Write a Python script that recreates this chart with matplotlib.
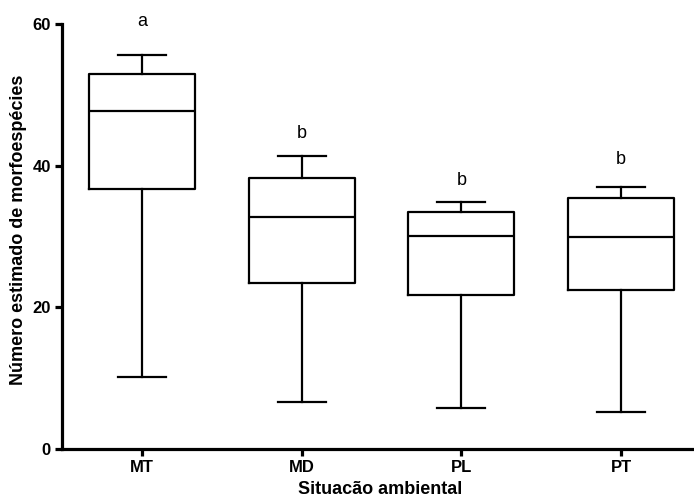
import matplotlib
matplotlib.use("Agg")
import matplotlib.pyplot as plt

# values
groups = ["MT", "MD", "PL", "PT"]
whislo = [10.2, 6.6, 5.8, 5.2]
q1 = [36.7, 23.5, 21.8, 22.4]
med = [47.7, 32.7, 30.1, 30.0]
q3 = [52.9, 38.3, 33.4, 35.4]
whishi = [55.6, 41.4, 34.9, 37.0]
letters = ["a", "b", "b", "b"]
letter_y = [59.7, 43.9, 37.3, 40.3]

plt.rcParams['font.family'] = ['Liberation Sans', 'DejaVu Sans']

fig = plt.figure(figsize=(6.94, 4.97), dpi=100)
ax = fig.add_axes([62 / 694, 1 - 449 / 497, 639 / 694, 425 / 497])

stats = []
for i in range(len(groups)):
    stats.append(dict(label=groups[i], whislo=whislo[i], q1=q1[i], med=med[i],
                      q3=q3[i], whishi=whishi[i], fliers=[]))

lw = 1.6
ax.bxp(stats, positions=range(1, 5), widths=0.665, showfliers=False,
       boxprops=dict(color="black", linewidth=lw),
       medianprops=dict(color="black", linewidth=lw),
       whiskerprops=dict(color="black", linewidth=lw),
       capprops=dict(color="black", linewidth=lw),
       capwidths=0.3)

# significance letters
for i in range(len(groups)):
    ax.text(i + 1, letter_y[i], letters[i], ha="center", va="baseline",
            fontsize=13, clip_on=False)

ax.set_xlim(0.5, 4.5)
ax.set_ylim(0, 60)
ax.set_yticks([0, 20, 40, 60])
ax.spines["top"].set_visible(False)
ax.spines["right"].set_visible(False)
ax.spines["left"].set_linewidth(2.3)
ax.spines["bottom"].set_linewidth(2.3)
ax.tick_params(axis="both", width=2.3, length=5, labelsize=12, pad=3)
for lab in ax.get_xticklabels() + ax.get_yticklabels():
    lab.set_fontweight("bold")

fig.text(19 / 694, 1 - 230 / 497, "Número estimado de morfoespécies",
         rotation=90, ha="center", va="center", fontsize=13, fontweight="bold")
fig.text(380 / 694, 1 - 490 / 497, "Situacão ambiental",
         ha="center", va="center", fontsize=13, fontweight="bold")

fig.savefig("out.png", dpi=100)
